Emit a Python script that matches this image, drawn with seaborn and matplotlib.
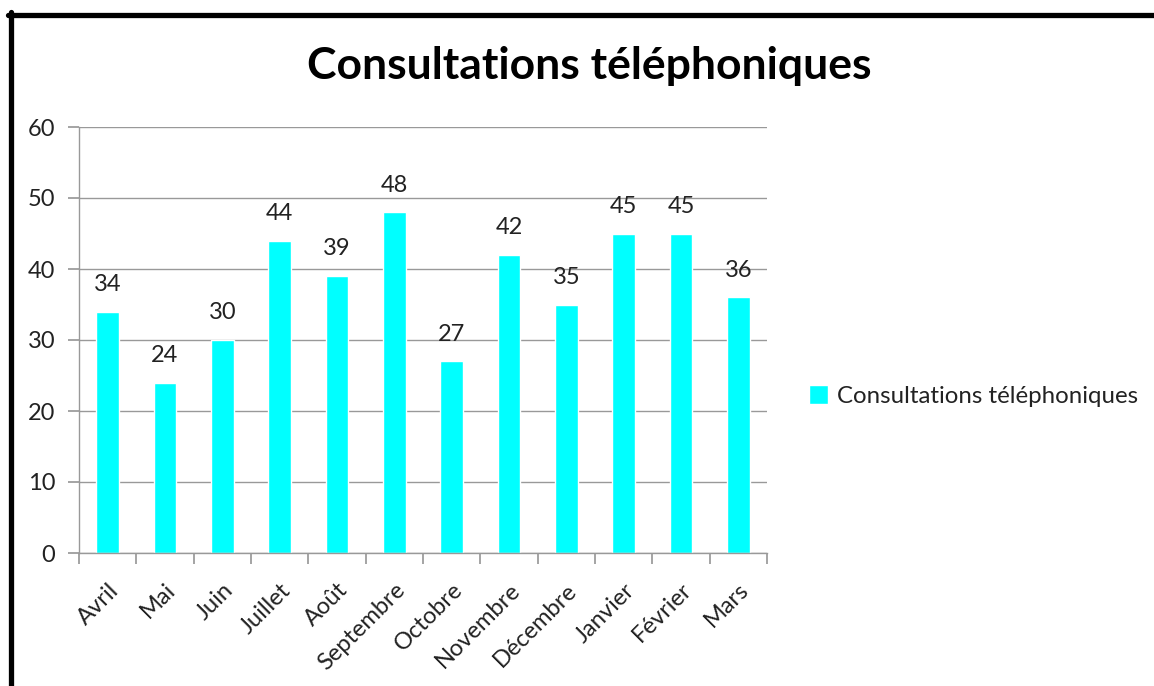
import matplotlib
matplotlib.use("Agg")
import matplotlib.pyplot as plt
import seaborn as sns
import pandas as pd

sns.set_theme(style="white")
plt.rcParams["font.family"] = ["Lato", "DejaVu Sans"]

mois = ["Avril", "Mai", "Juin", "Juillet", "Août", "Septembre", "Octobre",
        "Novembre", "Décembre", "Janvier", "Février", "Mars"]
consultations = [34, 24, 30, 44, 39, 48, 27, 42, 35, 45, 45, 36]
serie = "Consultations téléphoniques"
couleur = "#00FFFF"

df = pd.DataFrame({"mois": mois, "valeur": consultations, "serie": serie})

fig = plt.figure(figsize=(11.54, 6.86), dpi=100)
ax = fig.add_axes([79 / 1154, 1 - 553 / 686, (767 - 79) / 1154, (553 - 127) / 686])

sns.barplot(data=df, x="mois", y="valeur", hue="serie", palette=[couleur],
            width=0.4, ax=ax, saturation=1, legend=True)

for c in ax.containers:
    ax.bar_label(c, padding=12, fontsize=17, color="#222222")

ax.set_ylim(0, 60)
ax.set_yticks(range(0, 61, 10))
ax.set_xlim(-0.5, len(mois) - 0.5)
ax.yaxis.grid(True, color="#999999", linewidth=1)
ax.set_axisbelow(True)
ax.set_xlabel("")
ax.set_ylabel("")
for s in ["top", "right"]:
    ax.spines[s].set_visible(False)
for s in ["left", "bottom"]:
    ax.spines[s].set_color("#999999")
    ax.spines[s].set_linewidth(1)

# ticks between categories, Excel style
ax.set_xticks([i - 0.5 for i in range(len(mois) + 1)], minor=False)
ax.set_xticklabels([])
ax.tick_params(axis="x", which="major", length=8, color="#999999", direction="out", bottom=True)
ax.tick_params(axis="y", length=8, color="#999999", direction="out", left=True,
               labelsize=17, labelcolor="#222222", pad=9)
ax.set_xticks(range(len(mois)), minor=True)
ax.set_xticklabels(mois, minor=True, rotation=45, ha="right", rotation_mode="anchor",
                   fontsize=17, color="#222222")
ax.tick_params(axis="x", which="minor", length=0, pad=19)

leg = ax.legend(loc="center left", bbox_to_anchor=(799 / 1154, 1 - 396 / 686),
                bbox_transform=fig.transFigure, frameon=False, fontsize=17.3,
                handlelength=0.8, handleheight=0.8, handletextpad=0.4, borderaxespad=0)
for t in leg.get_texts():
    t.set_color("#222222")

fig.text(589 / 1154, 1 - 66 / 686, serie, ha="center", va="center",
         fontsize=32, fontweight="bold", color="black")

# black frame (bottom and right cut off)
fig.add_artist(plt.Line2D([10.5 / 1154, 10.5 / 1154], [0, 1 - 12 / 686], color="black",
                          linewidth=3.8, transform=fig.transFigure))
fig.add_artist(plt.Line2D([8 / 1154, 1], [1 - 14.5 / 686, 1 - 14.5 / 686],
                          color="black", linewidth=3.8, transform=fig.transFigure))

fig.savefig("out.png", dpi=100)
